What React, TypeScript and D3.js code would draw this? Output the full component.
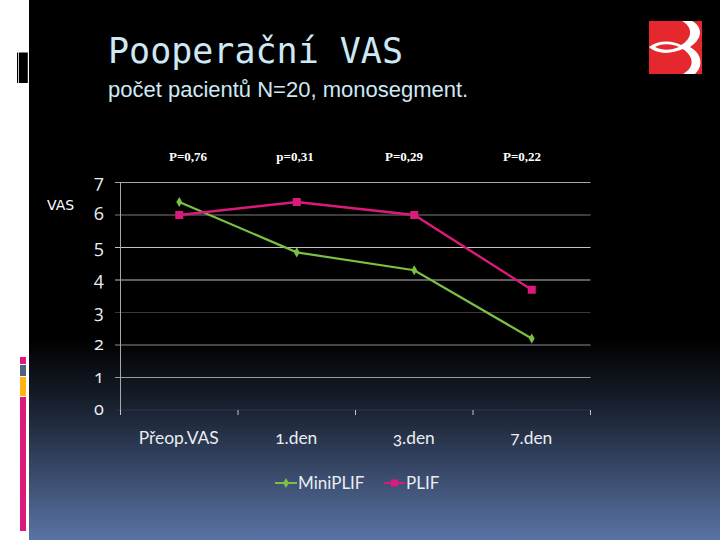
import React from "react";
import * as d3 from "d3";

const categories = ["Přeop.VAS", "1.den", "3.den", "7.den"];
const miniPlif = [6.4, 4.85, 4.3, 2.2];
const plif = [6.0, 6.4, 6.0, 3.7];
const yTicks = [0, 1, 2, 3, 4, 5, 6, 7];
const pValues = ["P=0,76", "p=0,31", "P=0,29", "P=0,22"];
const pLabelX = [188, 295, 404, 522];
// the gridlines come out uneven in the picture, so each has its own grey
const gridColors = ["#2c3548", "#9a9a9a", "#8c8c8c", "#3a3a3a", "#bdbdbd", "#c4c4c4", "#7a7a7a", "#a8a8a8"];

const GREEN = "#7ac143";
const PINK = "#dc1a7c";
const LABEL = "#e8eef2";

const width = 720;
const height = 540;

const x = d3.scaleBand<string>().domain(categories).range([120.5, 590.5]);
const y = d3.scaleLinear().domain([0, 7]).range([410, 182.5]);

const lineFor = d3
  .line<number>()
  .x((_, i) => x(categories[i])! + x.bandwidth() / 2)
  .y((d) => y(d));

const diamond = d3.symbol().type(d3.symbolDiamond).size(30);

export default function App() {
  const tickXs = [...categories.map((c) => x(c)!), 590.5];
  return (
    <svg
      width={width}
      height={height}
      viewBox={`0 0 ${width} ${height}`}
      style={{ position: "absolute", left: 0, top: 0, display: "block" }}
    >
      <defs>
        <linearGradient id="bg" x1="0" y1="0" x2="0" y2="1">
          <stop offset="0" stopColor="#000000" />
          <stop offset="0.63" stopColor="#000000" />
          <stop offset="0.76" stopColor="#1b2333" />
          <stop offset="1" stopColor="#5a73a5" />
        </linearGradient>
      </defs>
      <rect width={width} height={height} fill="#ffffff" />
      <rect x={29} width={691} height={height} fill="url(#bg)" />

      {/* left edge decoration */}
      <rect x={17} y={52.5} width={1} height={30.5} fill="#000" />
      <rect x={18.8} y={52.5} width={9} height={30.5} fill="#000" />
      <rect x={20} y={357} width={6} height={7} fill="#dc1a7c" />
      <rect x={20} y={365} width={6} height={11} fill="#4f6478" />
      <rect x={20} y={377} width={6} height={19} fill="#fdb515" />
      <rect x={20} y={397} width={6} height={134} fill="#dc1a7c" />

      {/* logo */}
      <rect x={649} y={21} width={53} height={53} fill="#e5282e" />
      <path
        d="M682 21 L692 21 C702 26 704 38 690 47 C703 54 703 67 695 74 L683 74 C693 69 696 58 683 49 C672 54 658 55 649 47 C658 40 672 40 681 45 C694 38 692 26 682 21 Z"
        fill="#ffffff"
      />
      <path d="M655 47 C663 43 672 44 679 47 C672 50 663 51 655 47 Z" fill="#e5282e" />

      {/* titles */}
      <text x={108} y={63} fontFamily="'DejaVu Sans Mono'" fontSize={35} fill="#cfe8f5">
        Pooperační VAS
      </text>
      <text x={108} y={97} fontFamily="'Liberation Sans'" fontSize={22} fill="#cfe8f5">
        počet pacientů N=20, monosegment.
      </text>

      {pValues.map((p, i) => (
        <text
          key={p}
          x={pLabelX[i]}
          y={161}
          textAnchor="middle"
          fontFamily="'Liberation Serif'"
          fontWeight="bold"
          fontSize={13}
          fill="#ffffff"
        >
          {p}
        </text>
      ))}
      <text x={47} y={210} fontFamily="'DejaVu Sans'" fontSize={14} fill="#ffffff">
        VAS
      </text>

      {/* grid */}
      {yTicks.map((t, i) => (
        <g key={t}>
          <line x1={115} x2={590.5} y1={y(t)} y2={y(t)} stroke={gridColors[i]} strokeWidth={1} />
          <text
            x={99}
            y={y(t) + 5}
            textAnchor="middle"
            fontFamily="'Open Sans'"
            fontSize={18}
            fill={LABEL}
            style={{ fontFeatureSettings: '"onum"' }}
          >
            {t}
          </text>
        </g>
      ))}
      <line x1={120.5} x2={120.5} y1={182.5} y2={415} stroke="#a8a8a8" />
      {tickXs.map((tx) => (
        <line key={tx} x1={tx} x2={tx} y1={410} y2={415} stroke="#c0c4cc" />
      ))}

      {categories.map((c) => (
        <text
          key={c}
          x={x(c)! + x.bandwidth() / 2 - 0.5}
          y={444}
          textAnchor="middle"
          fontFamily="Lato"
          fontSize={17.4}
          fill={LABEL}
          style={{ fontFeatureSettings: '"onum"' }}
        >
          {c}
        </text>
      ))}

      {/* series */}
      <path d={lineFor(miniPlif)!} fill="none" stroke={GREEN} strokeWidth={2.2} />
      {miniPlif.map((v, i) => (
        <path
          key={i}
          d={diamond()!}
          transform={`translate(${x(categories[i])! + x.bandwidth() / 2},${y(v)})`}
          fill={GREEN}
        />
      ))}
      <path d={lineFor(plif)!} fill="none" stroke={PINK} strokeWidth={2.4} />
      {plif.map((v, i) => (
        <rect
          key={i}
          x={x(categories[i])! + x.bandwidth() / 2 - 4}
          y={y(v) - 4}
          width={8}
          height={8}
          fill={PINK}
        />
      ))}

      {/* legend */}
      <line x1={275} x2={297} y1={483} y2={483} stroke={GREEN} strokeWidth={2} />
      <path d={diamond()!} transform="translate(286,483)" fill={GREEN} />
      <text x={298} y={488.5} fontFamily="Lato" fontSize={17} fill={LABEL}>
        MiniPLIF
      </text>
      <line x1={384} x2={405} y1={483} y2={483} stroke={PINK} strokeWidth={2} />
      <rect x={391} y={479.5} width={7} height={7} fill={PINK} />
      <text x={406} y={488.5} fontFamily="Lato" fontSize={17} fill={LABEL}>
        PLIF
      </text>
    </svg>
  );
}
